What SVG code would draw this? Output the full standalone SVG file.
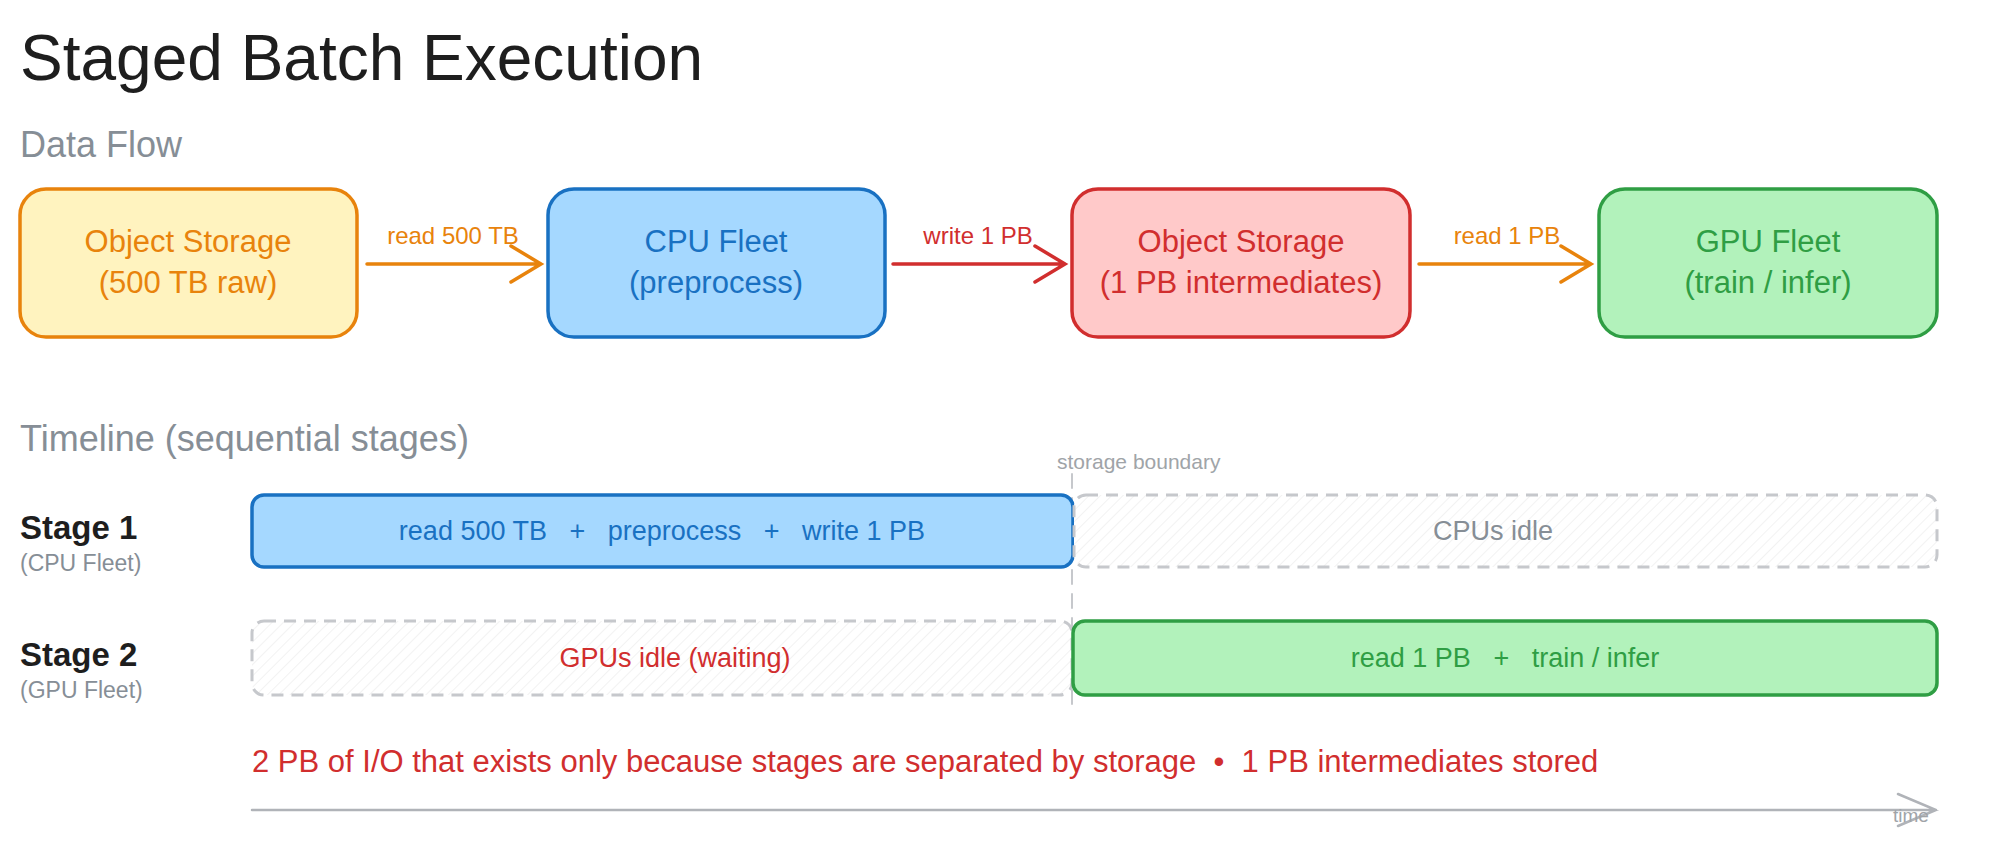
<svg xmlns="http://www.w3.org/2000/svg" width="1999" height="859" viewBox="0 0 1999 859">
<style>
text{font-family:"Liberation Sans",Arial,sans-serif}
.box{stroke-width:3.5}
.bt{font-size:31px;text-anchor:middle}
.lbl{font-size:24px;text-anchor:middle}
.bar{font-size:27px;text-anchor:middle}
.sec{font-size:36px;fill:#868e96}
.idle{fill:url(#hatch);stroke:#c6c8cc;stroke-width:3;stroke-dasharray:12 8}
</style>
<defs>
<pattern id="hatch" width="8" height="8" patternUnits="userSpaceOnUse" patternTransform="rotate(45)">
<rect width="8" height="8" fill="#fff"/><line x1="0" y1="0" x2="0" y2="8" stroke="#eeeeee" stroke-width="1.5"/>
</pattern>
</defs>
<rect width="1999" height="859" fill="#fff"/>
<text x="20" y="80" font-size="64" fill="#1e1e1e">Staged Batch Execution</text>
<text x="20" y="157" class="sec">Data Flow</text>

<g id="n1"><rect x="20" y="189" width="337" height="148" rx="26" class="box" fill="#fff3bf" stroke="#e8830c"/>
<text x="188" y="252" class="bt" fill="#e8830c">Object Storage</text><text x="188" y="293" class="bt" fill="#e8830c">(500 TB raw)</text></g>
<g id="n2"><rect x="548" y="189" width="337" height="148" rx="26" class="box" fill="#a5d8ff" stroke="#1971c2"/>
<text x="716" y="252" class="bt" fill="#1971c2">CPU Fleet</text><text x="716" y="293" class="bt" fill="#1971c2">(preprocess)</text></g>
<g id="n3"><rect x="1072" y="189" width="338" height="148" rx="26" class="box" fill="#ffc9c9" stroke="#d12e2e"/>
<text x="1241" y="252" class="bt" fill="#d12e2e">Object Storage</text><text x="1241" y="293" class="bt" fill="#d12e2e">(1 PB intermediates)</text></g>
<g id="n4"><rect x="1599" y="189" width="338" height="148" rx="26" class="box" fill="#b2f2bb" stroke="#2f9e44"/>
<text x="1768" y="252" class="bt" fill="#2f9e44">GPU Fleet</text><text x="1768" y="293" class="bt" fill="#2f9e44">(train / infer)</text></g>

<g id="connectors" fill="none" stroke-width="3.5" stroke-linecap="round">
<path d="M367 264H541M511 246L541 264L511 282" stroke="#e8830c"/>
<path d="M893 264H1065M1035 246L1065 264L1035 282" stroke="#d12e2e"/>
<path d="M1419 264H1591M1561 246L1591 264L1561 282" stroke="#e8830c"/>
<path d="M1072 474V708" stroke="#c6c8cc" stroke-width="2" stroke-dasharray="14 10"/>
<path d="M252 810H1936M1898 794L1936 810L1898 826" stroke="#b0b3b8" stroke-width="2.5"/>
</g>
<text x="453" y="244" class="lbl" fill="#e8830c">read 500 TB</text>
<text x="978" y="244" class="lbl" fill="#d12e2e">write 1 PB</text>
<text x="1507" y="244" class="lbl" fill="#e8830c">read 1 PB</text>

<text x="20" y="451" class="sec">Timeline (sequential stages)</text>
<text x="1057" y="469" font-size="21" fill="#a0a4a8">storage boundary</text>

<g id="stage1label"><text x="20" y="539" font-size="33" font-weight="bold" fill="#1e1e1e">Stage 1</text><text x="20" y="571" font-size="23" fill="#868e96">(CPU Fleet)</text></g>
<g id="stage2label"><text x="20" y="666" font-size="33" font-weight="bold" fill="#1e1e1e">Stage 2</text><text x="20" y="698" font-size="23" fill="#868e96">(GPU Fleet)</text></g>

<g id="s1run"><rect x="252" y="495" width="821" height="72" rx="12" fill="#a5d8ff" stroke="#1971c2" stroke-width="3.5"/>
<text x="662" y="540" class="bar" fill="#1971c2" xml:space="preserve">read 500 TB   +   preprocess   +   write 1 PB</text></g>
<g id="s1idle"><rect x="1074" y="495" width="863" height="72" rx="12" class="idle"/>
<text x="1493" y="540" class="bar" fill="#868e96">CPUs idle</text></g>
<g id="s2idle"><rect x="252" y="621" width="820" height="74" rx="12" class="idle"/>
<text x="675" y="667" class="bar" fill="#d12e2e">GPUs idle (waiting)</text></g>
<g id="s2run"><rect x="1073" y="621" width="864" height="74" rx="12" fill="#b2f2bb" stroke="#2f9e44" stroke-width="3.5"/>
<text x="1505" y="667" class="bar" fill="#2f9e44" xml:space="preserve">read 1 PB   +   train / infer</text></g>

<text x="252" y="772" font-size="31" fill="#d12e2e" xml:space="preserve">2 PB of I/O that exists only because stages are separated by storage  •  1 PB intermediates stored</text>
<text x="1893" y="822" font-size="19" fill="#a0a4a8">time</text>
</svg>
